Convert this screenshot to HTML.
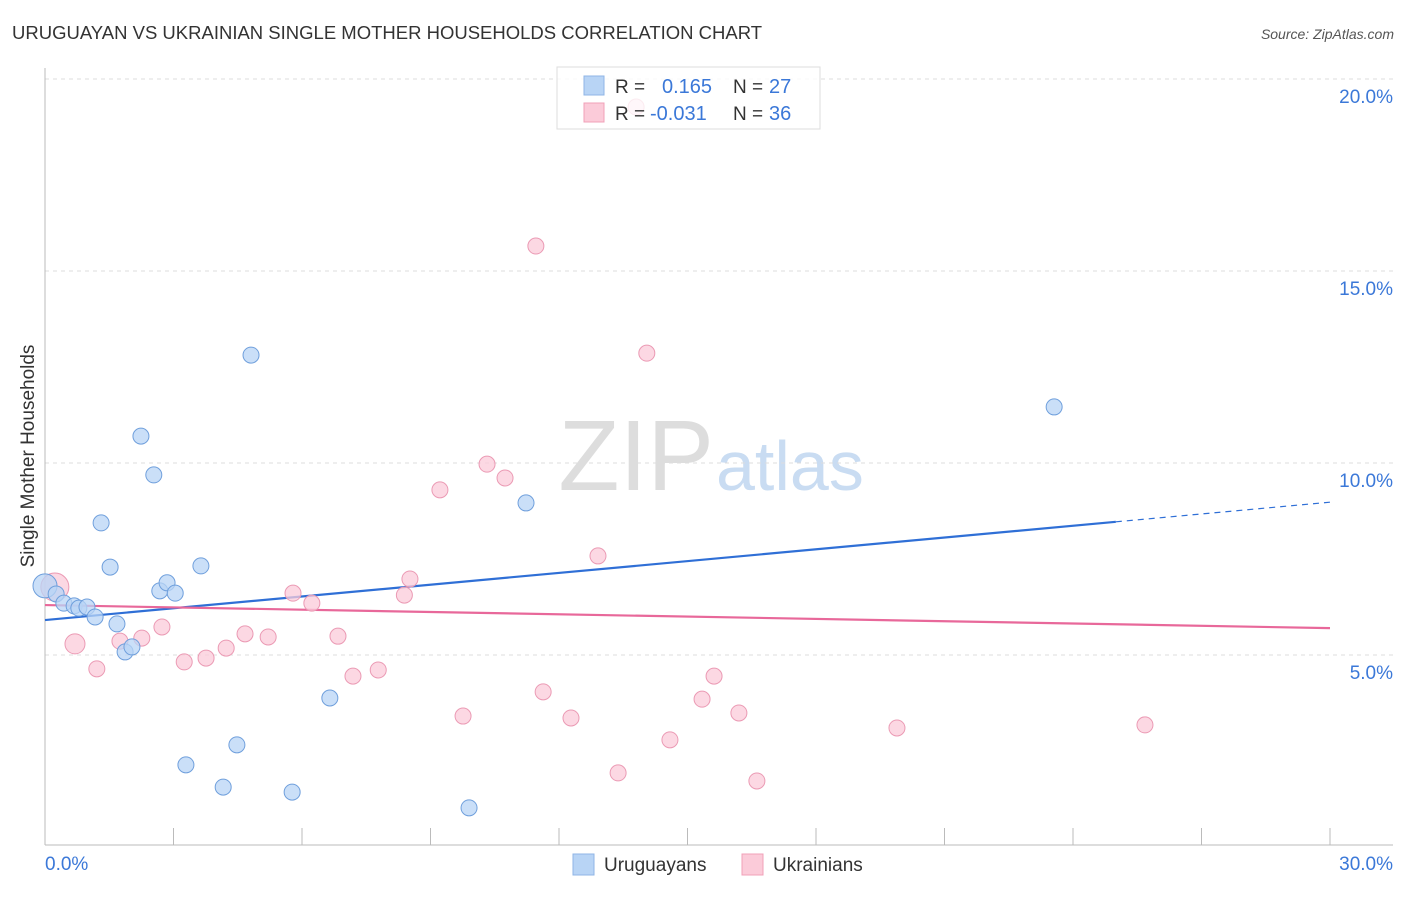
<!DOCTYPE html>
<html><head><meta charset="utf-8"><style>
body{margin:0;background:#fff;width:1406px;height:892px;overflow:hidden;font-family:"Liberation Sans",sans-serif}
svg text{font-family:"Liberation Sans",sans-serif}
</style></head><body>
<svg id="chart" width="1406" height="892" xmlns="http://www.w3.org/2000/svg">
<text x="12" y="39" font-size="18.5" fill="#333">URUGUAYAN VS UKRAINIAN SINGLE MOTHER HOUSEHOLDS CORRELATION CHART</text>
<text x="1394" y="39" font-size="14" fill="#555" text-anchor="end" font-style="italic">Source: ZipAtlas.com</text>
<text x="714" y="490" font-size="100" text-anchor="end" fill="#ddd" font-family="Liberation Serif">ZIP</text>
<text x="716" y="490" font-size="70" fill="#c9dcf2">atlas</text>
<text transform="translate(34,456) rotate(-90)" font-size="19" fill="#333" text-anchor="middle">Single Mother Households</text>
<g id="grid"></g><g id="axes"></g><g id="lines"></g><g id="pts"></g>
<g>
<rect x="557" y="67" width="263" height="62" fill="#fff" fill-opacity="0.8" stroke="#ddd"/>
<rect x="584" y="76" width="20" height="19" fill="#b8d4f5" stroke="#8fb5e6"/>
<rect x="584" y="103" width="20" height="19" fill="#fbcbd9" stroke="#f0a0b8"/>
<text x="615" y="93" font-size="19" fill="#333">R =</text><text x="662" y="93" font-size="20" fill="#3b78d8">0.165</text>
<text x="733" y="93" font-size="19" fill="#333">N =</text><text x="769" y="93" font-size="20" fill="#3b78d8">27</text>
<text x="615" y="120" font-size="19" fill="#333">R =</text><text x="650" y="120" font-size="20" fill="#3b78d8">-0.031</text>
<text x="733" y="120" font-size="19" fill="#333">N =</text><text x="769" y="120" font-size="20" fill="#3b78d8">36</text>
</g>
<g>
<rect x="573" y="854" width="21" height="21" fill="#b8d4f5" stroke="#8fb5e6"/>
<text x="604" y="871" font-size="19" fill="#333">Uruguayans</text>
<rect x="742" y="854" width="21" height="21" fill="#fbcbd9" stroke="#f0a0b8"/>
<text x="773" y="871" font-size="19" fill="#333">Ukrainians</text>
</g>
</svg>
<script>
const blueX=[0,0.26,0.44,0.68,0.79,0.98,1.17,1.31,1.52,1.68,1.87,2.03,2.24,2.54,2.68,2.85,3.04,3.29,3.64,4.16,4.48,4.81,5.77,6.65,9.90,11.23,23.56];
const blueY=[6.8,6.59,6.35,6.28,6.22,6.25,5.99,8.44,7.29,5.81,5.08,5.21,10.70,9.69,6.67,6.88,6.61,2.14,7.32,1.56,2.66,12.81,1.43,3.88,1.02,8.96,11.46];
const pinkX=[0.23,0.70,1.21,1.75,2.26,2.73,3.25,3.76,4.23,4.67,5.21,5.79,6.23,6.84,7.19,7.78,8.39,8.52,9.22,9.76,10.32,10.74,11.46,11.63,12.28,12.91,13.38,13.80,14.05,14.59,15.34,15.62,16.20,16.62,19.89,25.68];
const pinkY=[6.77,5.29,4.64,5.36,5.44,5.73,4.82,4.92,5.18,5.55,5.47,6.61,6.35,5.49,4.45,4.61,6.56,6.98,9.30,3.41,9.97,9.61,15.65,4.04,3.36,7.58,1.93,19.27,12.86,2.79,3.85,4.45,3.49,1.72,3.10,3.18];
const yTicks=[5,10,15,20];
const xTickLabels=["0.0%","30.0%"];
const blueTrend=[5.91,8.98];
const pinkTrend=[6.30,5.70];
const blueSolidEnd=25;
const NS="http://www.w3.org/2000/svg";
const sx=v=>45+v/30*1285, sy=v=>847-v*38.4;
function mk(tag,attrs,parent){const e=document.createElementNS(NS,tag);for(const k in attrs)e.setAttribute(k,attrs[k]);parent.appendChild(e);return e;}
const grid=document.getElementById('grid'),axes=document.getElementById('axes'),lines=document.getElementById('lines'),pts=document.getElementById('pts');
yTicks.forEach(t=>{
 const l=mk('line',{x1:45,x2:1393,y1:sy(t),y2:sy(t),stroke:'#ddd','stroke-dasharray':'4,4'},grid);
 
 
 const tx=mk('text',{x:1393,y:sy(t)+24,'font-size':19,fill:'#3b78d8','text-anchor':'end'},grid);tx.textContent=t.toFixed(1)+'%';
 
 
});
const ya=mk('line',{x1:45,x2:45,y1:68,y2:845,stroke:'#bbb'},axes);


const xa=mk('line',{x1:45,x2:1393,y1:845,y2:845,stroke:'#bbb'},axes);


for(let i=1;i<=10;i++){const t=mk('line',{x1:sx(i*3),x2:sx(i*3),y1:828,y2:845,stroke:'#bbb'},axes);
 
 }
const xl0=mk('text',{x:45,y:870,'font-size':19,fill:'#3b78d8'},axes);xl0.textContent=xTickLabels[0];


const xl1=mk('text',{x:1393,y:870,'font-size':19,fill:'#3b78d8','text-anchor':'end'},axes);xl1.textContent=xTickLabels[1];


function dot(x,y,fill,stroke,r,name){const c=mk('circle',{cx:sx(x),cy:sy(y),r:r,fill:fill,stroke:stroke,'stroke-width':1,'fill-opacity':0.75},pts);
 
 }
pinkX.forEach((x,i)=>dot(x,pinkY[i],'#fbcbd9','#eb9ab4',(i<2?(i==0?14:10):8),'ukrainian-point'));
blueX.forEach((x,i)=>dot(x,blueY[i],'#b8d4f5','#6f9fdc',(i==0?12:8),'uruguayan-point'));
const bt=v=>blueTrend[0]+(blueTrend[1]-blueTrend[0])*v/30, pt=v=>pinkTrend[0]+(pinkTrend[1]-pinkTrend[0])*v/30;
const b1=mk('line',{x1:sx(0),y1:sy(bt(0)),x2:sx(blueSolidEnd),y2:sy(bt(blueSolidEnd)),stroke:'#2f6fd6','stroke-width':2.2},lines);


const b2=mk('line',{x1:sx(blueSolidEnd),y1:sy(bt(blueSolidEnd)),x2:sx(30),y2:sy(bt(30)),stroke:'#2f6fd6','stroke-width':1.2,'stroke-dasharray':'6,5'},lines);


const p1=mk('line',{x1:sx(0),y1:sy(pt(0)),x2:sx(30),y2:sy(pt(30)),stroke:'#e8689a','stroke-width':2.2},lines);


</script>
</body></html>
